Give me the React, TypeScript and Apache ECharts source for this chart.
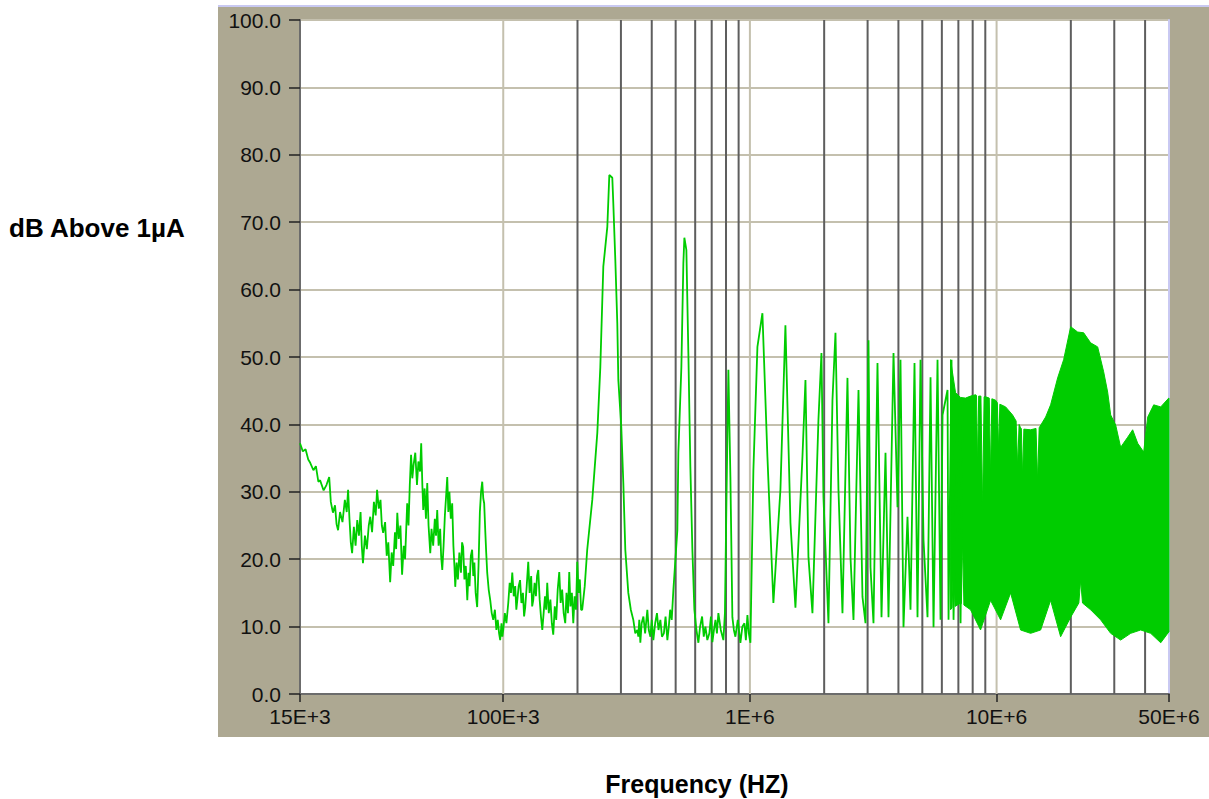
import React, { useEffect, useRef } from 'react';
import * as echarts from 'echarts';

// ---------- data ----------
const xMin = 15000;
const xMax = 50000000;
const yMin = 0;
const yMax = 100;
const yStep = 10;

const xTickFreqs = [15e3, 1e5, 1e6, 1e7, 5e7];
const xTickLabels = ['15E+3', '100E+3', '1E+6', '10E+6', '50E+6'];

const lightGridFreqs = [1e5, 1e6, 1e7];
const darkGridFreqs = [
  2e5, 3e5, 4e5, 5e5, 6e5, 7e5, 8e5, 9e5,
  2e6, 3e6, 4e6, 5e6, 6e6, 7e6, 8e6, 9e6,
  2e7, 3e7, 4e7,
];

// [frequency Hz, dB above 1uA] — 15 kHz .. 100 kHz
const spectrumLow: [number, number][] = [
  [15000, 37.2], [15400, 36.0], [15800, 36.3], [16200, 34.8], [16500, 34.3],
  [17000, 33.2], [17400, 33.8], [17800, 31.5], [18100, 31.7], [18700, 30.2],
  [19200, 31.0], [19700, 32.2], [20000, 28.5], [20400, 26.9], [20800, 28.0],
  [21100, 25.2], [21400, 24.3], [21800, 27.0], [22300, 25.5], [22800, 28.8],
  [23200, 27.0], [23500, 30.3], [23800, 26.0], [24100, 22.5], [24400, 20.9],
  [24800, 24.8], [25200, 22.0], [25600, 25.8], [26000, 23.5], [26400, 27.0],
  [26700, 22.0], [27000, 19.4], [27500, 23.5], [28000, 21.5], [28500, 25.0],
  [28900, 26.3], [29400, 24.0], [29900, 28.5], [30400, 26.5], [30800, 30.3],
  [31300, 27.5], [31800, 28.8], [32200, 25.0], [32600, 23.9], [33200, 25.5],
  [33700, 20.5], [34200, 22.5], [34800, 16.6], [35300, 21.0], [35800, 19.0],
  [36400, 24.0], [36800, 21.5], [37200, 26.9], [37700, 23.0], [38300, 25.0],
  [38900, 17.7], [39500, 22.0], [40000, 20.0], [40800, 28.3], [41300, 25.0],
  [41800, 31.0], [42300, 35.5], [42800, 32.0], [43300, 34.0], [44000, 35.8],
  [44700, 31.0], [45300, 34.5], [46000, 33.0], [46500, 37.2], [47000, 31.0],
  [47400, 27.3], [48000, 30.5], [48600, 26.0], [49200, 31.3], [49800, 25.0],
  [50600, 20.9], [51200, 24.5], [52000, 22.0], [52800, 26.0], [53400, 23.5],
  [54000, 27.3], [54700, 22.0], [55500, 24.5], [56000, 20.5], [56600, 18.4],
  [57300, 22.0], [58000, 26.5], [58700, 29.5], [59300, 32.2], [59900, 27.0],
  [60500, 30.0], [61300, 26.0], [62100, 28.3], [62800, 22.0], [63400, 19.0],
  [63900, 15.9], [64700, 19.5], [65500, 17.0], [66400, 21.0], [67400, 18.0],
  [68100, 22.5], [68800, 21.8], [69600, 17.0], [70500, 19.0], [71500, 13.9],
  [72300, 18.0], [73000, 16.0], [73900, 20.5], [74800, 21.4], [75600, 17.5],
  [76400, 19.5], [77300, 15.0], [78400, 12.9], [79400, 19.0], [80400, 27.0],
  [81300, 30.0], [82200, 31.5], [83000, 29.0], [83700, 28.3], [84600, 24.0],
  [85300, 21.0], [86100, 18.0], [87300, 15.5], [88600, 13.9], [89800, 12.0],
  [91100, 11.0], [92500, 12.5], [93800, 9.5], [95000, 11.0], [96200, 9.0],
  [97200, 8.0], [98400, 10.5], [99200, 8.5],
];

// 100 kHz .. 1 MHz
const spectrumMid: [number, number][] = [
  [100000, 9.5], [101500, 12.0], [103000, 10.5], [104800, 13.5], [106200, 16.5],
  [107500, 15.0], [108800, 18.0], [110300, 14.5], [111800, 16.0], [113000, 12.5],
  [114000, 13.9], [115500, 16.0], [117000, 16.9], [118500, 13.5], [120200, 15.0],
  [121500, 11.5], [122800, 12.9], [124500, 16.0], [126300, 19.6], [127900, 15.0],
  [129800, 17.5], [131000, 13.0], [132300, 13.9], [134000, 16.5], [135700, 14.5],
  [137100, 17.5], [138700, 18.4], [140500, 14.0], [142200, 11.5], [144000, 9.5],
  [145800, 12.0], [147700, 14.5], [149300, 12.5], [150800, 16.5], [153000, 12.0],
  [155300, 14.0], [157400, 10.5], [159500, 8.8], [161800, 13.0], [164000, 11.0],
  [166300, 15.5], [168700, 18.1], [170900, 13.5], [173300, 15.5], [175800, 12.0],
  [178400, 10.5], [180500, 15.0], [183000, 12.0], [185200, 18.1], [187300, 13.0],
  [189800, 15.0], [192300, 10.5], [194700, 14.5], [197200, 12.5], [199600, 19.6],
  [202000, 15.0], [204400, 17.0], [206800, 12.5], [209000, 12.5], [214000, 16.0],
  [219000, 21.4], [229600, 28.8], [240600, 38.7], [247500, 48.5], [254500, 63.4],
  [264200, 69.3], [269200, 77.0], [276800, 76.6], [279400, 72.8], [284700, 64.4],
  [290000, 55.0], [292800, 46.6], [301000, 39.6], [306800, 31.3], [312500, 21.4],
  [321400, 15.0], [329000, 12.5], [336800, 11.0], [343000, 9.0], [349700, 9.5],
  [352900, 8.5], [356000, 11.0], [359600, 7.6], [364000, 10.5], [370000, 11.5],
  [376000, 9.0], [383900, 12.5], [389000, 9.5], [395000, 8.5], [400000, 11.0],
  [406000, 8.0], [413000, 10.5], [420000, 12.0], [426000, 9.5], [433500, 11.0],
  [440000, 8.5], [448000, 9.0], [455000, 11.5], [462800, 8.0], [469000, 10.0],
  [475000, 12.5], [482000, 11.0], [489400, 15.4], [508000, 24.3], [512800, 35.8],
  [527400, 48.5], [537300, 63.9], [542400, 67.7], [552600, 65.9], [563000, 50.6],
  [573600, 33.7], [584500, 21.4], [595500, 12.5], [607000, 9.5], [618200, 7.6],
  [628000, 10.0], [640000, 11.5], [650000, 8.5], [660000, 10.0], [672000, 8.0],
  [685000, 9.0], [695000, 11.5], [704500, 7.7], [715000, 9.5], [725000, 11.0],
  [735000, 9.0], [745000, 12.0], [762000, 9.5], [780700, 8.0], [792000, 12.0],
  [803000, 28.3], [818000, 48.1], [833500, 32.2], [849000, 11.4], [861000, 9.5],
  [873400, 8.5], [893000, 11.0], [915000, 7.6], [932000, 10.0], [950000, 10.5],
  [963000, 8.0], [977000, 11.7], [990000, 9.0], [1004700, 7.6],
];

// comb of harmonics 1 MHz .. 7.3 MHz
const spectrumComb: [number, number][] = [
  [1033000, 33.2], [1072600, 51.5], [1123800, 56.5], [1177600, 35.2], [1245000, 13.5],
  [1329500, 30.3], [1393000, 54.7], [1460000, 25.4], [1529600, 12.8], [1633000, 35.2],
  [1679600, 46.6], [1727000, 20.3], [1792700, 12.0], [1896000, 40.7], [1950000, 50.6],
  [1986700, 29.2], [2081800, 10.5], [2161000, 43.6], [2222700, 53.6], [2285600, 30.3],
  [2372800, 12.0], [2486000, 46.9], [2557000, 20.3], [2629700, 11.0], [2755500, 45.1],
  [2860000, 14.4], [2941800, 10.5], [3025000, 52.5], [3081900, 18.8], [3169600, 10.5],
  [3290000, 49.1], [3415700, 11.4], [3545600, 35.8], [3646500, 11.4], [3820700, 50.6],
  [3966000, 27.7], [4078000, 49.6], [4194000, 9.9], [4353700, 26.3], [4477600, 12.5],
  [4648000, 49.1], [4780000, 11.4], [4916000, 49.6], [5056000, 22.8], [5248000, 11.4],
  [5398000, 47.0], [5551000, 9.9], [5762000, 49.6], [5926000, 11.0], [6038000, 41.4],
  [6326000, 45.1], [6386000, 11.0], [6567000, 49.6], [6691000, 11.0], [6946000, 42.6],
  [7145000, 10.5], [7280000, 43.6],
];

// dense region envelope (upper / lower)
const bandUpper: [number, number][] = [
  [6507000, 49.6], [6818000, 44.7], [7145000, 44.0], [7483000, 43.9], [7842000, 44.2],
  [8218000, 44.4], [8290000, 44.3], [8375000, 33.7], [8460000, 44.2], [8640000, 44.2],
  [8773000, 27.3], [8900000, 44.1], [9024000, 44.1], [9340000, 43.9], [9456000, 32.2],
  [9570000, 43.8], [9906000, 43.6], [10070000, 43.2], [10190000, 36.2], [10310000, 43.0],
  [10880000, 42.6], [11610000, 41.4], [12000000, 40.5], [12170000, 33.7], [12340000, 40.0],
  [12510000, 39.5], [12600000, 39.4], [12750000, 32.2], [12900000, 39.3], [13740000, 39.2],
  [14450000, 39.4], [14670000, 31.5], [14880000, 39.5], [15810000, 41.1], [16560000, 42.9],
  [17680000, 46.9], [18700000, 49.6], [19970000, 54.5], [21320000, 53.7], [22540000, 53.6],
  [24060000, 52.1], [25690000, 51.5], [27170000, 47.8], [28200000, 44.8], [29010000, 41.4],
  [30400000, 39.9], [31840000, 36.6], [34000000, 38.1], [35620000, 39.2], [37330000, 37.2],
  [39480000, 35.9], [41000000, 41.1], [43350000, 42.9], [46290000, 42.6], [49870000, 43.9],
  [50000000, 43.9],
];
const bandLower: [number, number][] = [
  [6507000, 12.5], [6600000, 12.8], [6691000, 19.4], [6790000, 13.0], [7145000, 13.5],
  [7200000, 13.4], [7280000, 22.8], [7370000, 13.2], [7842000, 12.5], [8611000, 9.5],
  [9456000, 13.9], [10380000, 11.0], [11400000, 15.0], [12510000, 9.5], [13740000, 9.0],
  [15090000, 9.5], [16560000, 13.9], [18180000, 8.5], [19970000, 11.4], [21550000, 13.5],
  [21920000, 16.9], [22300000, 13.5], [24060000, 12.5], [26420000, 11.0], [29010000, 9.0],
  [31840000, 8.0], [34970000, 9.0], [38390000, 9.5], [42150000, 9.0], [46290000, 7.6],
  [49870000, 9.2], [50000000, 9.2],
];

// ---------- styles ----------
const GREEN = '#00CC00';
const PANEL = '#ADA892';
const LIGHT_GRID = '#C4C0AE';
const DARK_GRID = '#5E5E5E';
const LAVENDER = '#C9C9F2';
const BORDER_DARK = '#6C6C6C';
const FONT = '"Liberation Sans", Arial, sans-serif';

function xLabel(v: number): string {
  let best = -1;
  let bestD = Infinity;
  for (let i = 0; i < xTickFreqs.length; i++) {
    const d = Math.abs(Math.log10(v) - Math.log10(xTickFreqs[i]));
    if (d < bestD) { bestD = d; best = i; }
  }
  return bestD < 0.01 ? xTickLabels[best] : '';
}

function gridSeries(freqs: number[], color: string, z: number) {
  return {
    type: 'custom',
    xAxisIndex: 0,
    yAxisIndex: 0,
    z,
    silent: true,
    data: freqs.map((f) => [f, yMin]),
    renderItem: (_p: any, api: any) => {
      const f = api.value(0);
      const a = api.coord([f, yMin]);
      const b = api.coord([f, yMax]);
      return {
        type: 'line',
        shape: { x1: a[0], y1: a[1], x2: b[0], y2: b[1] },
        style: { stroke: color, lineWidth: 2 },
      };
    },
  };
}

export default function App() {
  const ref = useRef<HTMLDivElement>(null);

  useEffect(() => {
    if (!ref.current) return;
    const chart = echarts.init(ref.current, undefined, { renderer: 'svg' });
    chart.setOption({
      animation: false,
      backgroundColor: 'transparent',
      grid: {
        left: 300,
        top: 20,
        width: 869,
        height: 674,
        show: true,
        backgroundColor: '#FFFFFF',
        borderWidth: 0,
      },
      xAxis: [
        {
          type: 'log',
          logBase: 10,
          min: xMin,
          max: xMax,
          position: 'bottom',
          axisLine: { show: true, lineStyle: { color: LAVENDER, width: 2 } },
          axisTick: { show: true, length: 8, lineStyle: { color: '#222', width: 1.5 } },
          axisLabel: {
            show: true,
            margin: 12,
            color: '#111',
            fontFamily: FONT,
            fontSize: 21,
            formatter: (v: number) => xLabel(v),
            showMinLabel: true,
            showMaxLabel: true,
          },
          splitLine: { show: false },
          minorTick: { show: false },
        },
        {
          type: 'value',
          position: 'top',
          min: 0,
          max: 1,
          axisLine: { show: true, lineStyle: { color: BORDER_DARK, width: 2 } },
          axisTick: { show: false },
          axisLabel: { show: false },
          splitLine: { show: false },
        },
      ],
      yAxis: [
        {
          type: 'value',
          min: yMin,
          max: yMax,
          interval: yStep,
          position: 'left',
          axisLine: { show: true, lineStyle: { color: BORDER_DARK, width: 2 } },
          axisTick: { show: true, length: 11, lineStyle: { color: '#222', width: 1.5 } },
          axisLabel: {
            margin: 19,
            color: '#111',
            fontFamily: FONT,
            fontSize: 21,
            formatter: (v: number) => v.toFixed(1),
          },
          splitLine: { show: true, lineStyle: { color: LIGHT_GRID, width: 2 } },
        },
        {
          type: 'value',
          position: 'right',
          min: 0,
          max: 1,
          axisLine: { show: true, lineStyle: { color: LAVENDER, width: 2 } },
          axisTick: { show: false },
          axisLabel: { show: false },
          splitLine: { show: false },
        },
      ],
      graphic: [
        {
          type: 'text',
          x: 9,
          y: 228,
          style: {
            text: 'dB Above 1µA',
            font: `bold 26px ${FONT}`,
            fill: '#000',
            align: 'left',
            verticalAlign: 'middle',
          },
        },
        {
          type: 'text',
          x: 697,
          y: 784,
          style: {
            text: 'Frequency (HZ)',
            font: `bold 25px ${FONT}`,
            fill: '#000',
            align: 'center',
            verticalAlign: 'middle',
          },
        },
      ],
      series: [
        gridSeries(lightGridFreqs, LIGHT_GRID, 1),
        gridSeries(darkGridFreqs, DARK_GRID, 1),
        {
          type: 'custom',
          xAxisIndex: 0,
          yAxisIndex: 0,
          z: 3,
          silent: true,
          data: [bandUpper[0]],
          renderItem: (_p: any, api: any) => {
            const pts = [
              ...bandUpper.map((p) => api.coord(p)),
              ...bandLower.slice().reverse().map((p) => api.coord(p)),
            ];
            return {
              type: 'polygon',
              shape: { points: pts },
              style: { fill: GREEN, stroke: GREEN, lineWidth: 1 },
            };
          },
        },
        {
          type: 'line',
          xAxisIndex: 0,
          yAxisIndex: 0,
          z: 4,
          silent: true,
          symbol: 'none',
          showSymbol: false,
          data: [...spectrumLow, ...spectrumMid, ...spectrumComb],
          lineStyle: { color: GREEN, width: 1.8 },
        },
      ],
    });
    return () => chart.dispose();
  }, []);

  return (
    <div style={{ position: 'absolute', left: 0, top: 0, width: 1209, height: 799, background: '#fff' }}>
      <div
        style={{
          position: 'absolute',
          left: 218,
          top: 5,
          width: 991,
          height: 730,
          background: PANEL,
          borderTop: `2px solid ${LAVENDER}`,
        }}
      />
      <div ref={ref} style={{ position: 'absolute', left: 0, top: 0, width: 1209, height: 799 }} />
    </div>
  );
}
